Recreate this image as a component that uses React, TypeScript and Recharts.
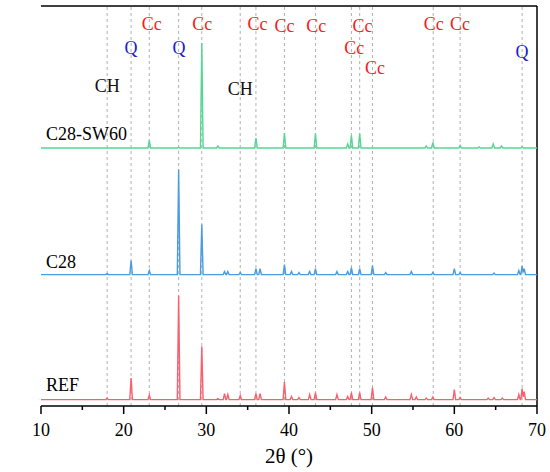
import { LineChart, Line, XAxis, YAxis, ReferenceLine, ReferenceDot } from 'recharts'

// peak positions (2θ) and heights above each trace's own baseline (cps)
const refPos = [18.0, 20.9, 23.1, 26.65, 29.45, 31.4, 32.2, 32.6, 34.1, 36.0, 36.5, 39.45, 40.3, 41.2, 42.5, 43.2, 45.8, 47.1, 47.55, 48.55, 50.1, 51.7, 54.8, 55.4, 56.6, 57.4, 60.0, 60.7, 64.1, 64.8, 65.8, 67.8, 68.2, 68.45]
const refInt = [15, 216, 45, 1040, 530, 10, 60, 50, 40, 60, 60, 176, 30, 20, 50, 70, 50, 30, 70, 70, 120, 25, 50, 25, 15, 25, 100, 20, 15, 20, 15, 50, 110, 80]
const refBase = 64

const c28Pos = [18.0, 20.9, 23.1, 26.65, 29.45, 32.2, 32.6, 34.1, 36.0, 36.5, 39.45, 40.3, 41.2, 42.5, 43.2, 45.8, 47.1, 47.55, 48.55, 50.1, 51.7, 54.8, 57.4, 60.0, 60.7, 64.8, 67.8, 68.2, 68.45]
const c28Int = [10, 140, 40, 1050, 500, 30, 30, 20, 60, 60, 100, 30, 20, 30, 60, 30, 30, 70, 60, 90, 20, 30, 20, 60, 20, 15, 40, 85, 60]
const c28Base = 1314

const swPos = [23.1, 26.65, 29.45, 31.4, 36.0, 39.45, 43.2, 47.1, 47.55, 48.55, 56.6, 57.4, 60.7, 63.0, 64.7, 65.7, 68.2]
const swInt = [77, 8, 1050, 20, 100, 150, 145, 40, 127, 144, 20, 55, 25, 10, 40, 20, 10]
const swBase = 2580

// dashed phase markers and their labels
const markerPos = [18.0, 20.9, 23.1, 26.65, 29.45, 34.1, 36.0, 39.45, 43.2, 47.55, 48.55, 50.1, 57.45, 60.7, 68.2]
const phaseText = ['CH', 'Q', 'Cc', 'Q', 'Cc', 'CH', 'Cc', 'Cc', 'Cc', 'Cc', 'Cc', 'Cc', 'Cc', 'Cc', 'Q']
const phaseX = [18.0, 20.9, 23.4, 26.7, 29.5, 34.1, 36.2, 39.45, 43.3, 47.9, 48.9, 50.4, 57.5, 60.7, 68.2]
const phaseY = [3200, 3580, 3820, 3580, 3820, 3170, 3820, 3800, 3800, 3580, 3800, 3380, 3820, 3820, 3540]

const seriesNames = ['C28-SW60', 'C28', 'REF']
const seriesLabelY = [2720, 1443, 210]

const xTicks = [10, 15, 20, 25, 30, 35, 40, 45, 50, 55, 60, 65, 70]

const phaseColor: Record<string, string> = { Cc: '#f51c24', Q: '#1c1cc8', CH: '#111' }
const font = 'Liberation Serif'

function profile(pos: number[], h: number[], base: number) {
  const pts = [{ x: 10, y: base }]
  pos.forEach((p, i) => {
    const prev = pos[i - 1]
    const next = pos[i + 1]
    if (i === 0 || p - prev >= 0.3) pts.push({ x: p - 0.16, y: base })
    pts.push({ x: p, y: base + h[i] })
    if (next === undefined || next - p >= 0.3) pts.push({ x: p + 0.16, y: base })
    else pts.push({ x: (p + next) / 2, y: base + Math.min(h[i], h[i + 1]) * 0.35 })
  })
  pts.push({ x: 70, y: base })
  return pts
}

function XTick({ x, y, payload }: any) {
  const major = payload.value % 10 === 0
  return (
    <g>
      <line x1={x} x2={x} y1={y} y2={y + (major ? 8 : 4)} stroke="#000" strokeWidth={1.5} />
      {major && (
        <text x={x} y={y + 30} textAnchor="middle" style={{ fontSize: 18, fontFamily: font }} fill="#000">
          {payload.value}
        </text>
      )}
    </g>
  )
}

export default function App() {
  const sw = profile(swPos, swInt, swBase)
  const c28 = profile(c28Pos, c28Int, c28Base)
  const ref = profile(refPos, refInt, refBase)

  return (
    <div style={{ position: 'absolute', left: 0, top: 0, background: '#fff', fontFamily: font }}>
      <LineChart width={550} height={472} margin={{ top: 6, right: 13, bottom: 0, left: 41 }} style={{ fontFamily: font }}>
        <XAxis
          dataKey="x"
          type="number"
          domain={[10, 70]}
          ticks={xTicks}
          interval={0}
          height={66}
          tickSize={0}
          tickMargin={0}
          tick={<XTick />}
          axisLine={{ stroke: '#000', strokeWidth: 1.5 }}
          label={{ value: '2θ (°)', position: 'insideBottom', offset: 9, fontSize: 21, fill: '#000', style: { fontFamily: font } }}
        />
        <YAxis
          type="number"
          domain={[0, 4000]}
          width={0}
          tick={false}
          tickLine={false}
          axisLine={{ stroke: '#000', strokeWidth: 1.5 }}
          label={{
            content: () => (
              <text transform="translate(15,193) rotate(-90)" textAnchor="middle" dominantBaseline="central"
                style={{ fontSize: 21, fontFamily: font }} fill="#000">
                Intensity (cps)
              </text>
            ),
          }}
        />

        {markerPos.map((p) => (
          <ReferenceLine key={p} x={p} stroke="#a8a8a8" strokeWidth={0.9} strokeDasharray="3 3" />
        ))}
        <ReferenceLine y={4000} stroke="#000" strokeWidth={1.5} />
        <ReferenceLine x={70} stroke="#000" strokeWidth={1.5} />

        <Line data={sw} dataKey="y" stroke="#55d694" strokeWidth={1.4} dot={false} isAnimationActive={false} />
        <Line data={c28} dataKey="y" stroke="#4b9be0" strokeWidth={1.4} dot={false} isAnimationActive={false} />
        <Line data={ref} dataKey="y" stroke="#f8606e" strokeWidth={1.4} dot={false} isAnimationActive={false} />

        {phaseText.map((t, i) => (
          <ReferenceDot
            key={i}
            x={phaseX[i]}
            y={phaseY[i]}
            r={0}
            stroke="none"
            label={{ value: t, position: 'center', fontSize: 18, fill: phaseColor[t], style: { fontFamily: font } }}
          />
        ))}

        {seriesNames.map((n, i) => (
          <ReferenceDot
            key={n}
            x={10}
            y={seriesLabelY[i]}
            r={0}
            stroke="none"
            label={{ value: n, position: 'right', offset: 5, fontSize: 18, fill: '#000', style: { fontFamily: font } }}
          />
        ))}
      </LineChart>
    </div>
  )
}
